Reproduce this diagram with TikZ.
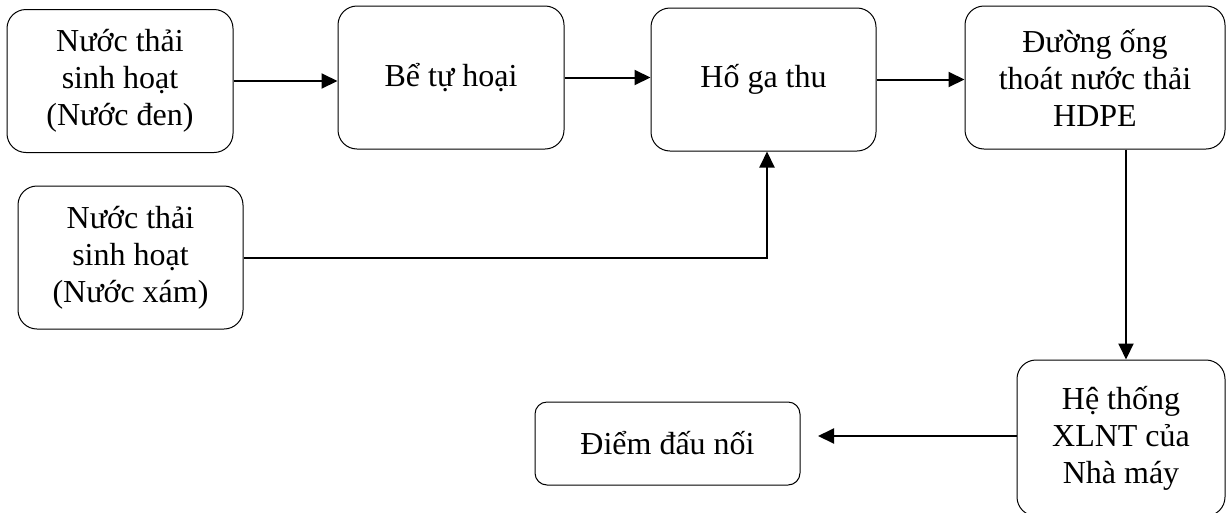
\documentclass[tikz,border=0pt]{standalone}
\usepackage{fontspec}
\setmainfont{Liberation Serif}
\usetikzlibrary{arrows.meta}
\begin{document}
\begin{tikzpicture}[x=1pt,y=-1pt,
  box/.style={draw=black, line width=1pt, rounded corners=19pt, align=center,
    inner sep=0pt, font=\fontsize{32}{37}\selectfont},
  arr/.style={line width=2pt, -{Triangle[length=16pt,width=15pt]}}]
\useasboundingbox (0,0) rectangle (1226,512);
\node[box, minimum width=226pt, minimum height=143pt] (b1) at (120,81) {Nước thải\\sinh hoạt\\(Nước đen)};
\node[box, minimum width=226pt, minimum height=143pt] (b2) at (451,77.5) {Bể tự hoại};
\node[box, minimum width=225pt, minimum height=143pt] (b3) at (763.5,79.5) {Hố ga thu};
\node[box, minimum width=260pt, minimum height=143pt] (b4) at (1095,77.5) {Đường ống\\thoát nước thải\\HDPE};
\node[box, minimum width=225pt, minimum height=143pt] (b5) at (130.5,257.5) {Nước thải\\sinh hoạt\\(Nước xám)};
\node[box, minimum width=208pt, minimum height=156pt] (b6) at (1121,438) {Hệ thống\\XLNT của\\Nhà máy};
\node[box, rounded corners=12pt, minimum width=265pt, minimum height=83pt] (b7) at (667.5,443.5) {Điểm đấu nối};
\coordinate (t7) at (818,436);
\draw[arr] (b1.east) -- (b2.west |- b1.east);
\draw[arr] (b2.east) -- (b3.west |- b2.east);
\draw[arr] (b3.east) -- (b4.west |- b3.east);
\draw[arr] (b5.east) -| ([xshift=3.5pt]b3.south);
\draw[arr] ([xshift=5pt]b6.north |- b4.south) -- ([xshift=5pt]b6.north);
\draw[arr] (b6.west |- t7) -- (t7);
\end{tikzpicture}
\end{document}
